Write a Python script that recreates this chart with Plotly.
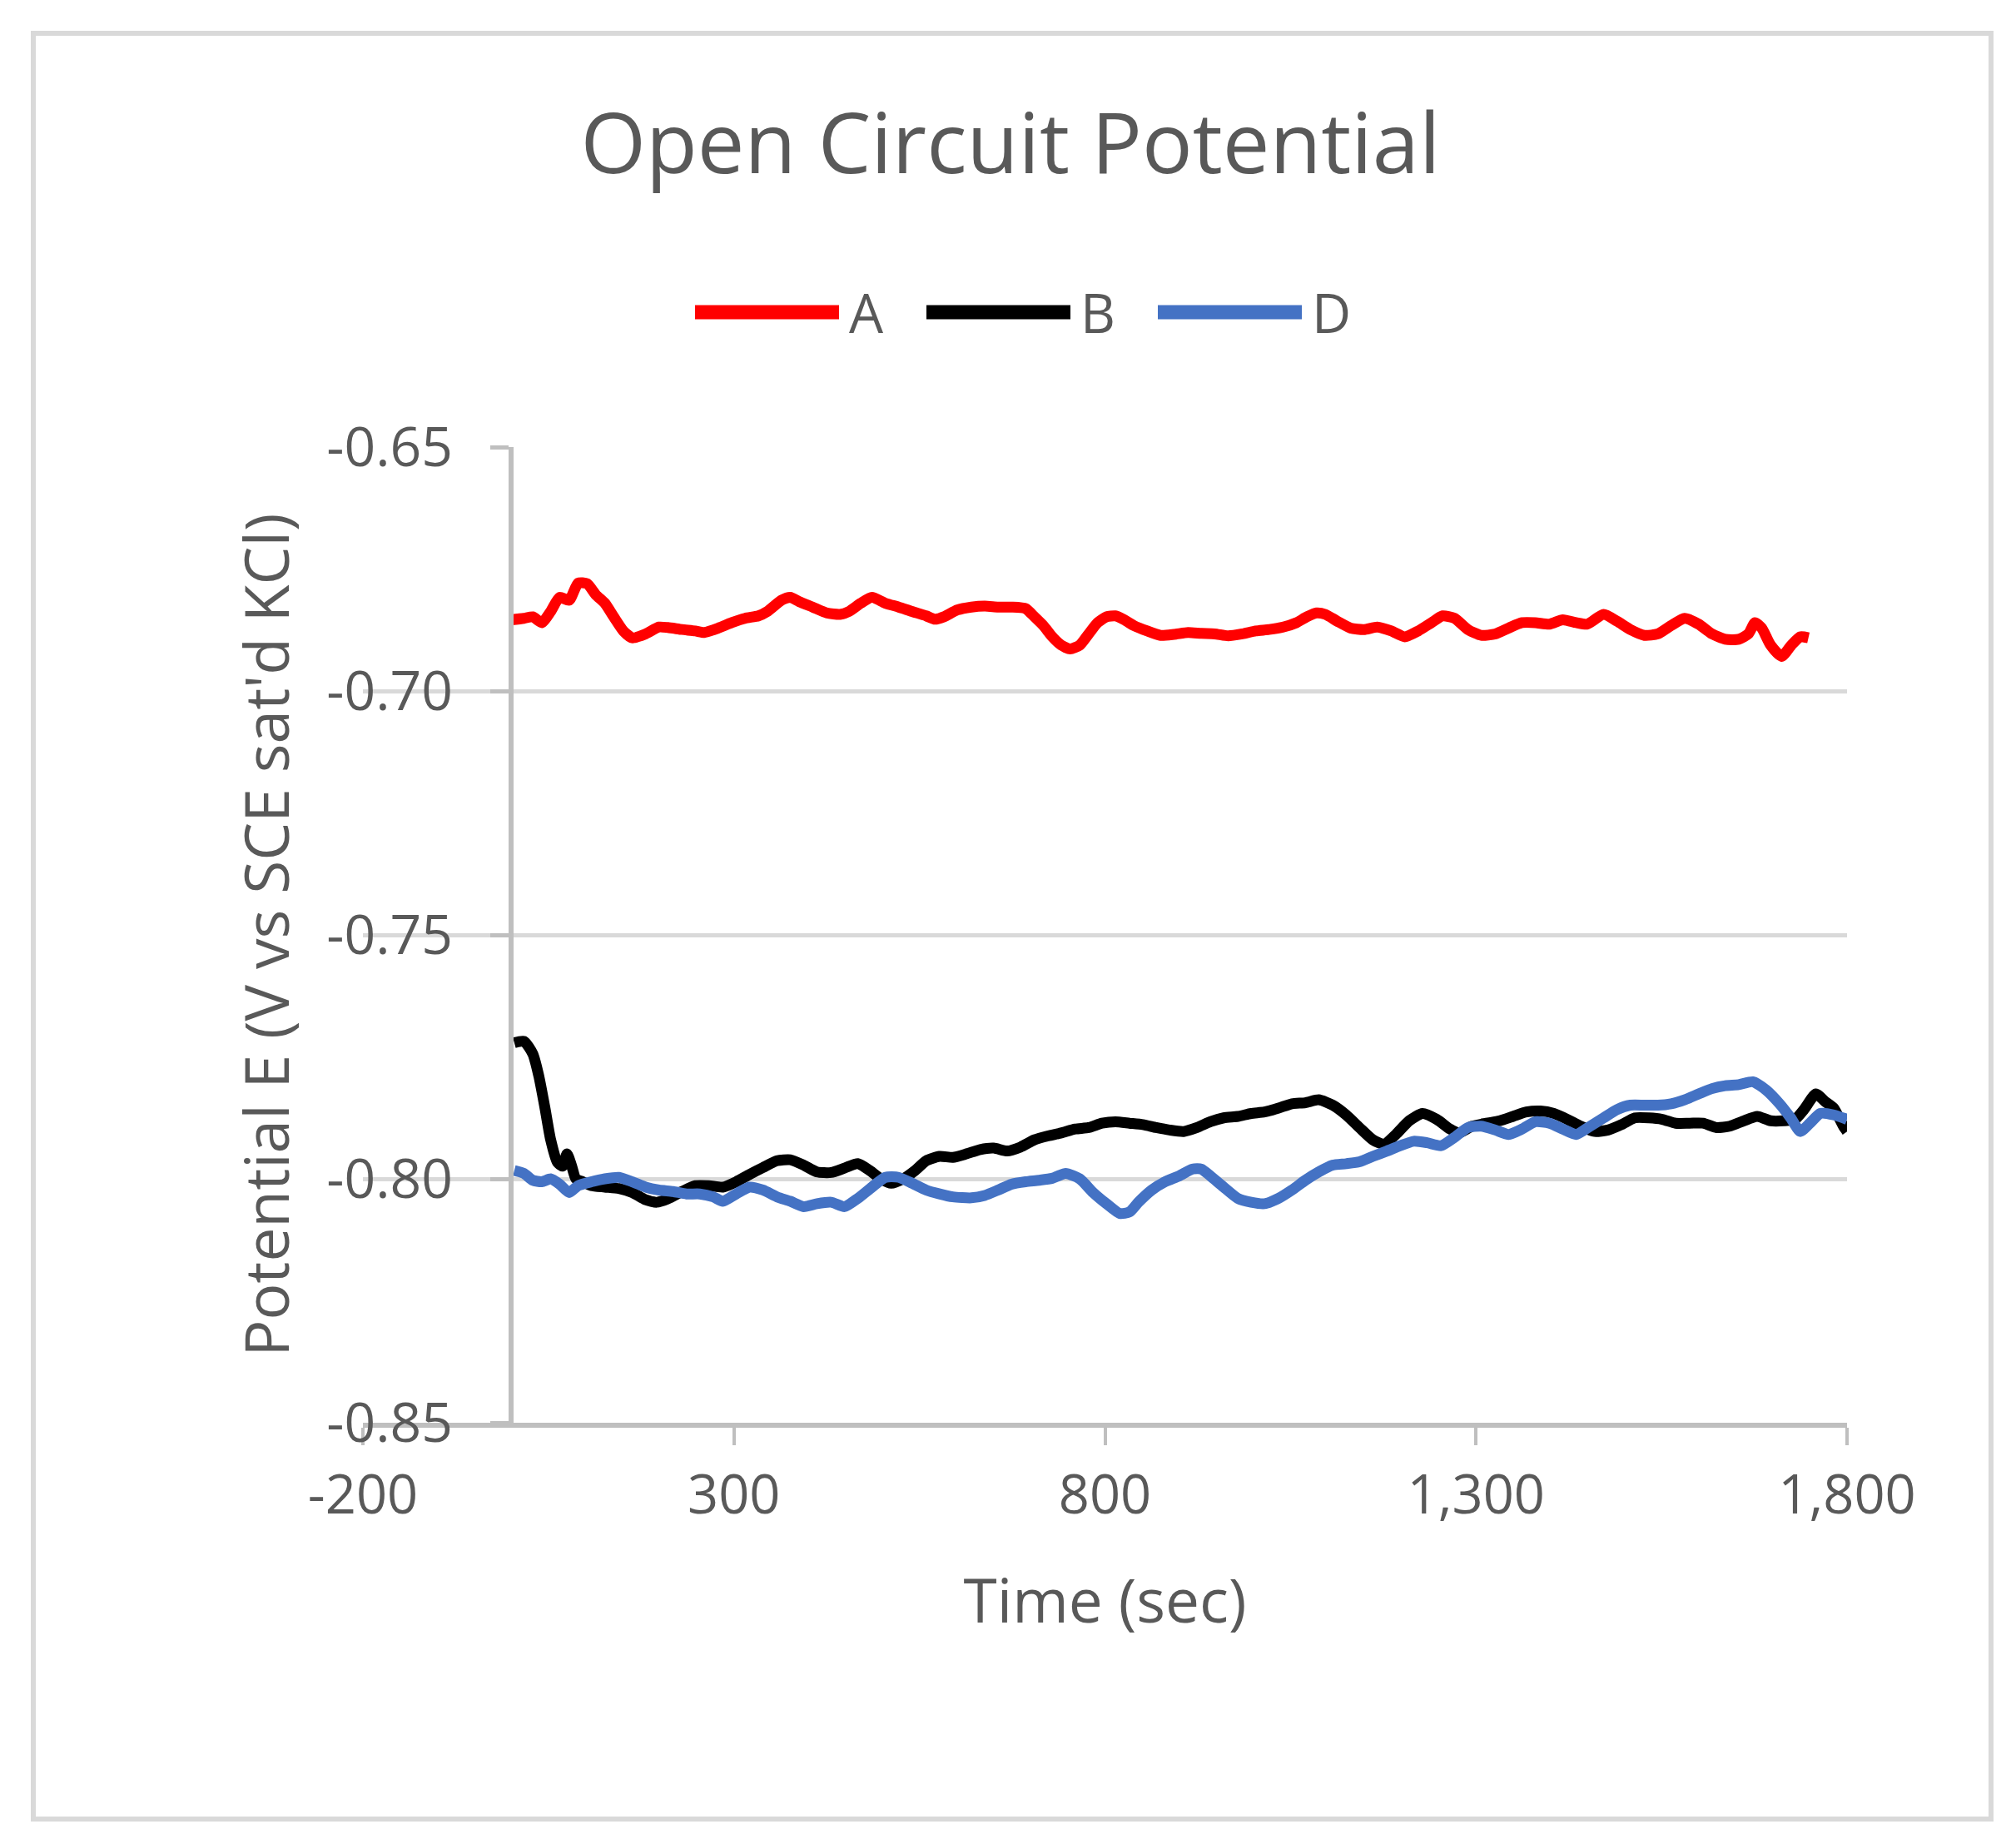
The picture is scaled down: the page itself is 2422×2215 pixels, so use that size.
import plotly.graph_objects as go

# ---------------- data ----------------
time_A = [0, 17, 29, 41, 53, 65, 78, 90, 102, 114, 126, 138, 151, 163, 181, 199, 211, 230, 248, 260,
          279, 297, 315, 333, 345, 364, 376, 388, 406, 425, 443, 455, 471, 486, 504, 522, 540, 559, 571, 583,
          601, 620, 638, 656, 674, 693, 705, 717, 729, 741, 753, 766, 778, 790, 802, 814, 826, 839, 857, 875,
          893, 912, 930, 948, 966, 985, 1003, 1021, 1040, 1058, 1072, 1085, 1097, 1113, 1131, 1149, 1167, 1186, 1204, 1222,
          1240, 1255, 1271, 1289, 1307, 1326, 1344, 1362, 1380, 1399, 1417, 1435, 1450, 1472, 1490, 1508, 1527, 1545, 1563, 1581,
          1600, 1618, 1636, 1654, 1667, 1676, 1685, 1697, 1712, 1725, 1737, 1748]
pot_A = [-0.6854, -0.6851, -0.6848, -0.6860, -0.6837, -0.6808, -0.6814, -0.6779, -0.6780, -0.6803, -0.6820, -0.6848, -0.6877, -0.6891, -0.6883, -0.6869, -0.6870, -0.6874, -0.6877, -0.6880,
         -0.6871, -0.6860, -0.6851, -0.6846, -0.6837, -0.6814, -0.6808, -0.6817, -0.6828, -0.6840, -0.6843, -0.6837, -0.6820, -0.6808, -0.6820, -0.6828, -0.6837, -0.6846, -0.6853, -0.6848,
         -0.6834, -0.6828, -0.6826, -0.6828, -0.6828, -0.6831, -0.6848, -0.6866, -0.6889, -0.6906, -0.6914, -0.6906, -0.6883, -0.6860, -0.6848, -0.6846, -0.6854, -0.6866, -0.6877, -0.6886,
         -0.6884, -0.6880, -0.6882, -0.6883, -0.6887, -0.6883, -0.6877, -0.6874, -0.6869, -0.6860, -0.6848, -0.6840, -0.6843, -0.6857, -0.6871, -0.6874, -0.6869, -0.6877, -0.6889, -0.6877,
         -0.6860, -0.6846, -0.6851, -0.6874, -0.6886, -0.6883, -0.6871, -0.6860, -0.6860, -0.6863, -0.6854, -0.6860, -0.6863, -0.6843, -0.6857, -0.6874, -0.6886, -0.6883, -0.6866, -0.6851,
         -0.6863, -0.6883, -0.6894, -0.6894, -0.6883, -0.6860, -0.6871, -0.6906, -0.6929, -0.6906, -0.6889, -0.6891]

time_B = [4, 17, 29, 37, 45, 53, 62, 69, 75, 81, 87, 96, 108, 126, 145, 163, 181, 196, 211, 230,
          248, 266, 285, 303, 321, 339, 358, 376, 394, 412, 431, 449, 467, 483, 498, 512, 528, 544, 559, 577,
          595, 613, 632, 650, 668, 686, 705, 723, 741, 760, 778, 796, 814, 833, 851, 869, 887, 906, 924, 942,
          960, 979, 997, 1015, 1034, 1052, 1070, 1088, 1107, 1125, 1143, 1161, 1176, 1192, 1210, 1228, 1247, 1265, 1277, 1295,
          1314, 1332, 1350, 1368, 1387, 1405, 1423, 1441, 1460, 1478, 1496, 1514, 1533, 1551, 1569, 1588, 1606, 1624, 1642, 1661,
          1679, 1697, 1715, 1730, 1742, 1758, 1770, 1782, 1795, 1800]
pot_B = [-0.7721, -0.7718, -0.7744, -0.7789, -0.7852, -0.7920, -0.7966, -0.7974, -0.7949, -0.7972, -0.8000, -0.8006, -0.8014, -0.8017, -0.8020, -0.8028, -0.8043, -0.8048, -0.8041, -0.8026,
         -0.8014, -0.8014, -0.8017, -0.8006, -0.7991, -0.7977, -0.7963, -0.7961, -0.7972, -0.7986, -0.7987, -0.7978, -0.7969, -0.7983, -0.8000, -0.8009, -0.8000, -0.7983, -0.7963, -0.7954,
         -0.7956, -0.7949, -0.7940, -0.7937, -0.7943, -0.7935, -0.7920, -0.7912, -0.7906, -0.7898, -0.7895, -0.7886, -0.7883, -0.7886, -0.7889, -0.7895, -0.7900, -0.7903, -0.7895, -0.7883,
         -0.7875, -0.7872, -0.7866, -0.7863, -0.7855, -0.7846, -0.7844, -0.7838, -0.7849, -0.7869, -0.7895, -0.7920, -0.7929, -0.7909, -0.7881, -0.7866, -0.7878, -0.7898, -0.7906, -0.7892,
         -0.7886, -0.7881, -0.7872, -0.7863, -0.7861, -0.7866, -0.7878, -0.7892, -0.7903, -0.7900, -0.7889, -0.7875, -0.7875, -0.7878, -0.7886, -0.7886, -0.7886, -0.7895, -0.7892, -0.7881,
         -0.7872, -0.7881, -0.7881, -0.7878, -0.7858, -0.7826, -0.7841, -0.7855, -0.7892, -0.7903]

time_D = [4, 17, 29, 41, 53, 65, 78, 90, 108, 126, 145, 163, 181, 199, 218, 236, 254, 272, 285, 303,
          321, 339, 358, 376, 394, 412, 431, 449, 467, 486, 504, 522, 540, 559, 577, 595, 620, 638, 656, 674,
          693, 711, 729, 747, 766, 784, 802, 820, 833, 845, 863, 881, 900, 918, 930, 942, 960, 979, 997, 1015,
          1034, 1052, 1070, 1088, 1107, 1125, 1143, 1161, 1180, 1198, 1216, 1234, 1253, 1271, 1289, 1307, 1326, 1344, 1362, 1380,
          1399, 1417, 1435, 1454, 1472, 1490, 1508, 1527, 1545, 1563, 1581, 1600, 1618, 1636, 1654, 1673, 1691, 1709, 1724, 1737,
          1750, 1764, 1782, 1800]
pot_D = [-0.7983, -0.7989, -0.8003, -0.8006, -0.8000, -0.8011, -0.8028, -0.8014, -0.8006, -0.8000, -0.7997, -0.8006, -0.8017, -0.8023, -0.8026, -0.8031, -0.8031, -0.8037, -0.8046, -0.8031,
         -0.8017, -0.8023, -0.8037, -0.8046, -0.8057, -0.8051, -0.8048, -0.8057, -0.8040, -0.8017, -0.7997, -0.7997, -0.8009, -0.8023, -0.8031, -0.8037, -0.8039, -0.8034, -0.8023, -0.8011,
         -0.8006, -0.8003, -0.7999, -0.7989, -0.8000, -0.8028, -0.8051, -0.8071, -0.8068, -0.8048, -0.8023, -0.8006, -0.7994, -0.7980, -0.7980, -0.7994, -0.8017, -0.8040, -0.8048, -0.8051,
         -0.8040, -0.8023, -0.8003, -0.7986, -0.7972, -0.7969, -0.7965, -0.7954, -0.7943, -0.7932, -0.7923, -0.7926, -0.7932, -0.7915, -0.7895, -0.7892, -0.7900, -0.7909, -0.7898, -0.7883,
         -0.7886, -0.7898, -0.7909, -0.7892, -0.7875, -0.7858, -0.7849, -0.7849, -0.7849, -0.7846, -0.7838, -0.7826, -0.7815, -0.7809, -0.7807, -0.7801, -0.7818, -0.7846, -0.7875, -0.7903,
         -0.7886, -0.7866, -0.7869, -0.7878]

series_names = ["A", "B", "D"]
series_colors = ["#FF0000", "#000000", "#4472C4"]

x_tick_values = [-200, 300, 800, 1300, 1800]
x_tick_labels = ["-200", "300", "800", "1,300", "1,800"]
y_tick_values = [-0.65, -0.70, -0.75, -0.80, -0.85]
y_tick_labels = ["-0.65", "-0.70", "-0.75", "-0.80", "-0.85"]

title_text = "Open Circuit Potential"
x_title = "Time (sec)"
y_title = "Potential E (V vs SCE sat'd KCl)"

# ---------------- layout geometry (pixels, page has an 8px body margin) ----------------
OFF = 8
W, H = 2422 - OFF, 2215 - OFF
L, R, T, B = 436 - OFF, 2219 - OFF, 537 - OFF, 1709 - OFF
X_MIN, X_MAX = -200, 1800
Y_MIN, Y_MAX = -0.85, -0.65
FONT = "Open Sans"
TXT = "#595959"


def px(x):
    return (x - OFF - L) / (R - L)


def py(y):
    return (B - (y - OFF)) / (B - T)


fig = go.Figure()
series = [(time_A, pot_A), (time_B, pot_B), (time_D, pot_D)]
for (t, p), name, col in zip(series, series_names, series_colors):
    fig.add_trace(go.Scatter(x=t, y=p, name=name, mode="lines",
                             line=dict(color=col, width=13, shape="spline", smoothing=0.6),
                             showlegend=False))

shapes = [dict(type="rect", xref="paper", yref="paper",
               x0=px(40), x1=px(2392), y0=py(2185), y1=py(40),
               line=dict(color="#D9D9D9", width=6), fillcolor="rgba(0,0,0,0)", layer="below")]
annotations = []
leg_x0 = [835, 1113, 1391]
leg_len = 173
leg_y = 375
for name, col, x0 in zip(series_names, series_colors, leg_x0):
    shapes.append(dict(type="line", xref="paper", yref="paper",
                       x0=px(x0), x1=px(x0 + leg_len), y0=py(leg_y), y1=py(leg_y),
                       line=dict(color=col, width=17)))
    annotations.append(dict(xref="paper", yref="paper", x=px(x0 + leg_len + 10), y=py(leg_y),
                            xanchor="left", yanchor="middle", showarrow=False, text=name,
                            font=dict(family=FONT, size=65, color=TXT)))

fig.update_layout(
    width=W, height=H,
    margin=dict(l=L, r=W - R, t=T, b=H - B, pad=0),
    paper_bgcolor="white", plot_bgcolor="white",
    title=dict(text=title_text, x=(1214 - OFF) / W, xanchor="center", xref="container",
               y=1 - (173 - OFF) / H, yanchor="middle", yref="container",
               font=dict(family=FONT, size=101, color=TXT)),
    xaxis=dict(range=[X_MIN, X_MAX], tickmode="array", tickvals=x_tick_values, ticktext=x_tick_labels,
               showgrid=False, zeroline=False, showline=True, linecolor="#BFBFBF", linewidth=6,
               ticks="outside", ticklen=21, tickwidth=4, tickcolor="#BFBFBF",
               tickfont=dict(family=FONT, size=65, color=TXT), ticklabelstandoff=4,
               title=dict(text=x_title, font=dict(family=FONT, size=73, color=TXT), standoff=64)),
    yaxis=dict(range=[Y_MIN, Y_MAX], tickmode="array", tickvals=y_tick_values, ticktext=y_tick_labels,
               anchor="free", position=(0 - X_MIN) / (X_MAX - X_MIN),
               showgrid=True, gridcolor="#D9D9D9", gridwidth=5,
               zeroline=False, showline=True, linecolor="#BFBFBF", linewidth=6,
               ticks="outside", ticklen=22, tickwidth=5, tickcolor="#BFBFBF",
               tickfont=dict(family=FONT, size=66, color=TXT), ticklabelstandoff=32,
               title=dict(text=y_title, font=dict(family=FONT, size=73, color=TXT), standoff=20)),
    shapes=shapes, annotations=annotations,
    font=dict(family=FONT, color=TXT),
)

fig.write_html("out.html")
